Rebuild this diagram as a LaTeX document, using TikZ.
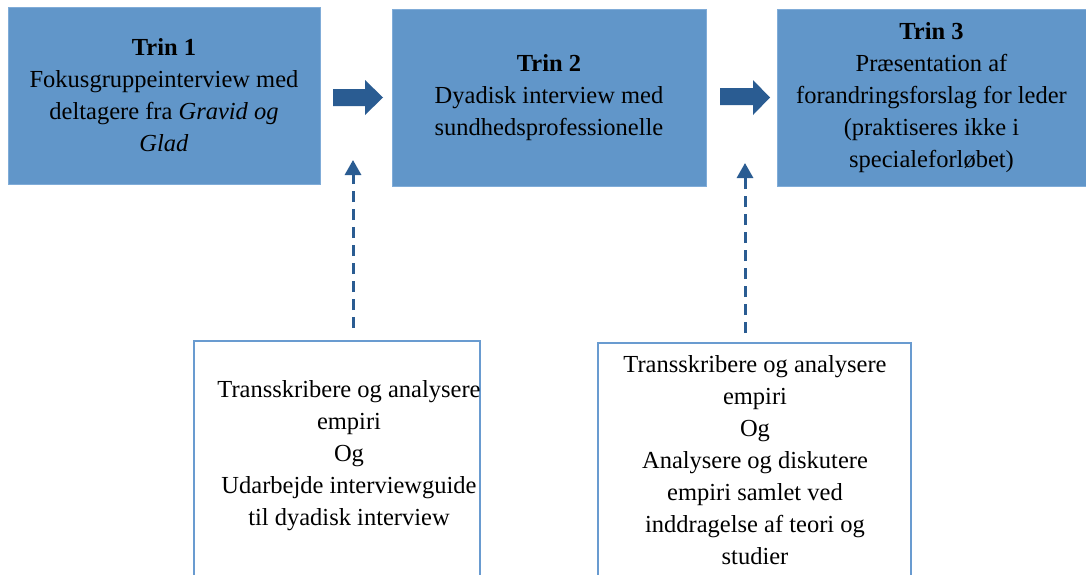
\documentclass[tikz,border=0pt]{standalone}
\usepackage{fontspec}
\setmainfont{Liberation Serif}
\usetikzlibrary{positioning,arrows.meta}
\definecolor{StepBlue}{RGB}{97,150,201}
\definecolor{StepEdge}{RGB}{128,172,216}
\definecolor{ArrowBlue}{RGB}{42,92,146}
\definecolor{NoteEdge}{RGB}{105,155,208}
\tikzset{
  stepbox/.style={fill=StepBlue,draw=StepEdge,line width=0.8pt,minimum height=177pt,inner sep=0pt,align=center,font=\fontsize{24.5}{32}\selectfont},
  notebox/.style={draw=NoteEdge,line width=1.5pt},
  notetext/.style={align=center,inner sep=0pt,font=\fontsize{24.5}{32}\selectfont},
  feedback/.style={ArrowBlue,line width=3pt,dash pattern=on 11pt off 7pt,-{Triangle[width=16pt,length=15pt]}}
}
\begin{document}
\begin{tikzpicture}[x=1pt,y=-1pt]
\clip (0,0) rectangle (1086,574);
\fill[white] (0,0) rectangle (1086,574);
% the three steps
\node[stepbox,minimum width=312pt] (trin1) at (164,95.5)
{\textbf{Trin 1}\\Fokusgruppeinterview med\\deltagere fra \textit{Gravid og}\\\textit{Glad}};
\node[stepbox,minimum width=314pt] (trin2) at (549,97.5)
{\textbf{Trin 2}\\Dyadisk interview med\\sundhedsprofessionelle};
\node[stepbox,minimum width=309pt] (trin3) at (931.5,97.5)
{\textbf{Trin 3}\\Præsentation af\\forandringsforslag for leder\\(praktiseres ikke i\\specialeforløbet)};
% block arrows between the steps
\fill[ArrowBlue] (333,89) -- (365,89) -- (365,80) -- (383,97.5) -- (365,115) -- (365,106) -- (333,106) -- cycle;
\fill[ArrowBlue] (720,88) -- (753,88) -- (753,80) -- (770,97.5) -- (753,115) -- (753,105) -- (720,105) -- cycle;
% work between the steps
\draw[notebox] (194,341) rectangle (480,640);
\draw[notebox] (598,343) rectangle (911,640);
\node[notetext] (note1) at (349,456)
{Transskribere og analysere\\empiri\\Og\\Udarbejde interviewguide\\til dyadisk interview};
\node[notetext] (note2) at (755,460)
{Transskribere og analysere\\empiri\\Og\\Analysere og diskutere\\empiri samlet ved\\inddragelse af teori og\\studier};
\coordinate (from1) at (353,328);
\coordinate (to1) at (353,160);
\coordinate (from2) at (745,333);
\coordinate (to2) at (745,163);
\draw[feedback] (from1) -- (to1);
\draw[feedback] (from2) -- (to2);
\end{tikzpicture}
\end{document}
